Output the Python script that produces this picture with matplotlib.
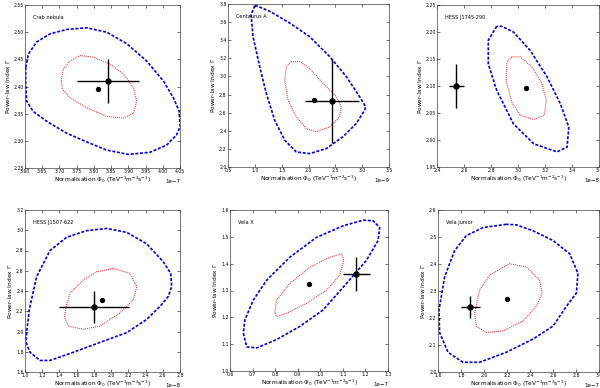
"""
Confidence contours (1 and 3 sigma) of power-law fits for six sources,
compared with published values. Writes out.png.
"""
import matplotlib
matplotlib.use("Agg")
import matplotlib.pyplot as plt
import numpy as np

plt.rcParams.update({"font.size": 3.5, "xtick.direction": "in", "ytick.direction": "in",
                     "xtick.top": True, "ytick.right": True, "axes.linewidth": 0.5,
                     "axes.edgecolor": "#444444",
                     "xtick.major.size": 2.2, "ytick.major.size": 2.2,
                     "xtick.major.width": 0.4, "ytick.major.width": 0.4})

NAMES = ["Crab nebula", "Centaurus A", "HESS J1745-290", "HESS J1507-622", "Vela X", "Vela Junior"]
SCALE = [1e-7, 1e-9, 1e-8, 1e-8, 1e-7, 1e-7]

# outer (blue, dashed) contours, normalisation in units of SCALE
crab_blue_x = [3.602, 3.610, 3.634, 3.673, 3.721, 3.779, 3.837, 3.895, 3.953, 4.002, 4.031, 4.048,
               4.050, 4.040, 4.011, 3.963, 3.900, 3.837, 3.779, 3.721, 3.663, 3.624, 3.605, 3.602]
crab_blue_y = [2.435, 2.460, 2.482, 2.497, 2.505, 2.508, 2.500, 2.479, 2.447, 2.410, 2.379, 2.354,
               2.326, 2.311, 2.292, 2.279, 2.275, 2.283, 2.298, 2.314, 2.336, 2.354, 2.373, 2.404]
cena_blue_x = [0.997, 0.930, 0.966, 1.090, 1.214, 1.370, 1.556, 1.773, 2.020, 2.330, 2.640, 2.890,
               3.047, 3.065, 2.953, 2.705, 2.394, 2.020, 1.650, 1.276, 1.030]
cena_blue_y = [3.780, 3.680, 3.440, 3.110, 2.813, 2.517, 2.296, 2.166, 2.148, 2.203, 2.333, 2.480,
               2.628, 2.665, 2.776, 2.998, 3.220, 3.440, 3.590, 3.720, 3.780]
j1745_blue_x = [2.842, 2.780, 2.780, 2.842, 2.966, 3.116, 3.289, 3.364, 3.376, 3.314, 3.215, 3.090,
                2.966, 2.880]
j1745_blue_y = [2.2105, 2.1846, 2.141, 2.092, 2.030, 1.993, 1.978, 1.987, 2.024, 2.067, 2.117, 2.166,
                2.200, 2.2105]
j1507_blue_x = [1.012, 1.058, 1.174, 1.290, 1.561, 1.871, 2.181, 2.413, 2.568, 2.665, 2.703, 2.692,
                2.607, 2.413, 2.181, 1.949, 1.716, 1.484, 1.290, 1.135, 1.050, 1.019]
j1507_blue_y = [1.892, 1.795, 1.714, 1.714, 1.795, 1.892, 1.989, 2.119, 2.249, 2.347, 2.444, 2.574,
                2.687, 2.866, 2.979, 3.018, 2.996, 2.931, 2.800, 2.541, 2.217, 1.990]
velax_blue_x = [0.659, 0.674, 0.718, 0.806, 0.909, 1.013, 1.116, 1.204, 1.256, 1.263, 1.234, 1.190,
                1.101, 0.983, 0.865, 0.762, 0.703, 0.666]
velax_blue_y = [1.141, 1.090, 1.086, 1.117, 1.166, 1.228, 1.326, 1.412, 1.486, 1.535, 1.560, 1.562,
                1.541, 1.498, 1.424, 1.338, 1.264, 1.191]
velaj_blue_x = [2.194, 1.991, 1.846, 1.745, 1.658, 1.609, 1.614, 1.687, 1.817, 1.962, 2.194, 2.426,
                2.600, 2.716, 2.803, 2.817, 2.745, 2.600, 2.426, 2.281]
velaj_blue_y = [2.547, 2.535, 2.505, 2.450, 2.353, 2.231, 2.146, 2.073, 2.036, 2.036, 2.073, 2.122,
                2.170, 2.243, 2.292, 2.365, 2.438, 2.487, 2.523, 2.545]

# inner (red, dotted) contours
crab_red_x = [3.705, 3.711, 3.731, 3.760, 3.798, 3.847, 3.886, 3.915, 3.924, 3.915, 3.886, 3.837,
              3.779, 3.731, 3.709]
crab_red_y = [2.410, 2.432, 2.447, 2.457, 2.454, 2.441, 2.423, 2.398, 2.373, 2.351, 2.342, 2.345,
              2.361, 2.379, 2.395]
cena_red_x = [1.680, 1.587, 1.556, 1.618, 1.773, 1.960, 2.146, 2.394, 2.580, 2.610, 2.520, 2.270,
              2.020, 1.835]
cena_red_y = [3.164, 3.108, 2.960, 2.739, 2.554, 2.425, 2.388, 2.443, 2.554, 2.665, 2.776, 2.924,
              3.090, 3.164]
j1745_red_x = [2.954, 2.917, 2.912, 2.954, 3.016, 3.116, 3.195, 3.210, 3.178, 3.103, 3.016]
j1745_red_y = [2.154, 2.144, 2.110, 2.070, 2.046, 2.038, 2.046, 2.073, 2.104, 2.135, 2.154]
j1507_red_x = [1.484, 1.523, 1.677, 1.832, 2.026, 2.220, 2.297, 2.258, 2.103, 1.871, 1.677, 1.503,
               1.457]
j1507_red_y = [2.265, 2.379, 2.509, 2.590, 2.622, 2.574, 2.444, 2.314, 2.184, 2.054, 2.022, 2.054,
               2.152]
velax_red_x = [0.799, 0.806, 0.865, 0.954, 1.042, 1.094, 1.104, 1.086, 1.027, 0.939, 0.850, 0.806]
velax_red_y = [1.218, 1.264, 1.326, 1.387, 1.424, 1.437, 1.412, 1.357, 1.301, 1.252, 1.215, 1.203]
velaj_red_x = [1.919, 1.962, 2.049, 2.223, 2.368, 2.484, 2.507, 2.455, 2.339, 2.165, 2.020, 1.933]
velaj_red_y = [2.219, 2.304, 2.359, 2.401, 2.389, 2.340, 2.292, 2.243, 2.189, 2.152, 2.146, 2.170]

# best fit (small dot) and published value with errors
fit_x = [3.813, 2.096, 3.061, 1.890, 0.948, 2.203]
fit_y = [2.395, 2.743, 2.097, 2.314, 1.3235, 2.270]
ref_x = [3.840, 2.440, 2.544, 1.800, 1.160, 1.880]
ref_y = [2.410, 2.730, 2.100, 2.240, 1.360, 2.240]
ref_xerr = [0.090, 0.510, 0.056, 0.410, 0.059, 0.083]
ref_yerr = [0.040, 0.460, 0.040, 0.160, 0.063, 0.040]

BLUE = [(crab_blue_x, crab_blue_y), (cena_blue_x, cena_blue_y), (j1745_blue_x, j1745_blue_y),
        (j1507_blue_x, j1507_blue_y), (velax_blue_x, velax_blue_y), (velaj_blue_x, velaj_blue_y)]
RED = [(crab_red_x, crab_red_y), (cena_red_x, cena_red_y), (j1745_red_x, j1745_red_y),
       (j1507_red_x, j1507_red_y), (velax_red_x, velax_red_y), (velaj_red_x, velaj_red_y)]

XLIM = [(3.60, 4.05), (0.5, 3.5), (2.4, 3.6), (1.0, 2.8), (0.6, 1.3), (1.6, 3.0)]
YLIM = [(2.25, 2.55), (2.0, 3.8), (1.95, 2.25), (1.6, 3.2), (1.0, 1.6), (2.0, 2.6)]
XSTEP = [0.05, 0.5, 0.2, 0.2, 0.1, 0.2]
YSTEP = [0.05, 0.2, 0.05, 0.2, 0.1, 0.1]

# axes boxes in pixels (left, top, right, bottom) of a 600x388 canvas
BOX = [(25, 5, 180, 168), (228, 4, 389, 167), (437, 5, 599, 167),
       (25, 210, 180, 372), (230, 210, 388, 371), (438, 210, 599, 372)]


def closed(v):
    return list(v) + [v[0]]


fig = plt.figure(figsize=(6.0, 3.88), dpi=100)
for i in range(6):
    l, t, r, b = BOX[i]
    ax = fig.add_axes([l / 600, 1 - b / 388, (r - l) / 600, (b - t) / 388])
    s = SCALE[i]
    bx, by = BLUE[i]
    rx, ry = RED[i]
    ax.plot(np.array(closed(bx)) * s, closed(by), color="#0000cc", ls=(0, (1.8, 1.0)), lw=1.2)
    ax.plot(np.array(closed(rx)) * s, closed(ry), color="#dd2222", ls=(0, (0.8, 1.0)), lw=0.8)
    ax.plot(fit_x[i] * s, fit_y[i], "o", color="k", ms=2.8)
    ax.errorbar(ref_x[i] * s, ref_y[i], xerr=ref_xerr[i] * s, yerr=ref_yerr[i],
                fmt="o", color="k", ms=3.6, lw=1.0, capsize=0)
    x0, x1 = XLIM[i]
    y0, y1 = YLIM[i]
    ax.set_xlim(x0 * s, x1 * s)
    ax.set_ylim(y0, y1)
    ax.set_xticks(np.arange(x0, x1 + XSTEP[i] / 2, XSTEP[i]) * s)
    ax.set_yticks(np.arange(y0, y1 + YSTEP[i] / 2, YSTEP[i]))
    ax.ticklabel_format(axis="x", style="sci", scilimits=(0, 0), useMathText=False)
    ax.xaxis.get_offset_text().set_fontsize(4.0)
    ax.tick_params(labelsize=3.3, pad=1.0)
    ax.set_xlabel(r"Normalisation $\Phi_0$ (TeV$^{-1}$m$^{-2}$s$^{-1}$)", fontsize=4.2, labelpad=0.2)
    ax.set_ylabel(r"Power-law Index $\Gamma$", fontsize=4.2, labelpad=1.2)
    ax.text(0.05, 0.94, NAMES[i], transform=ax.transAxes, fontsize=3.6, va="top", ha="left")

fig.savefig("out.png", dpi=100)
